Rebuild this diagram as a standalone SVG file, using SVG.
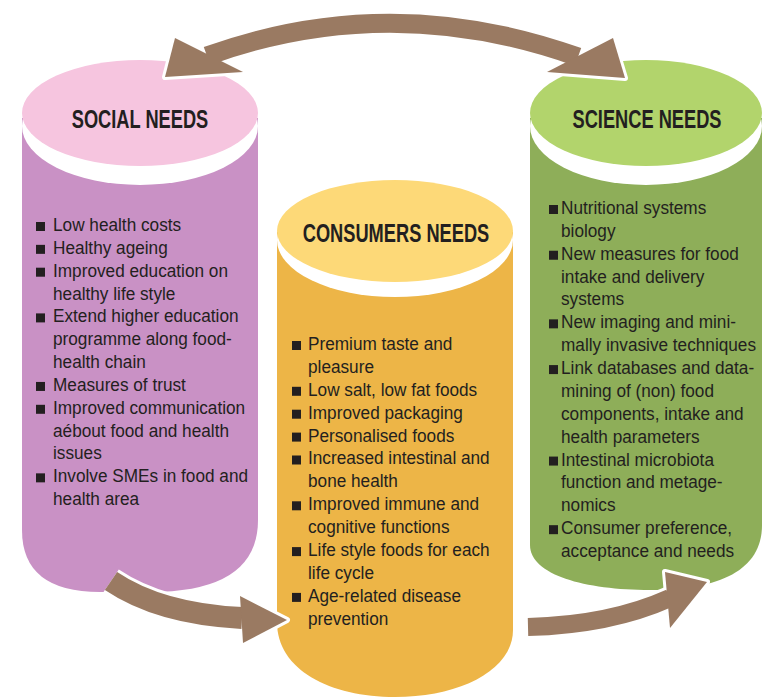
<svg xmlns="http://www.w3.org/2000/svg" xmlns:xlink="http://www.w3.org/1999/xlink" width="763" height="700" viewBox="0 0 763 700">
<style>
.title{font-family:"Liberation Sans",Arial,sans-serif;font-weight:bold;font-size:25px;fill:#231F20;}
.b{font-family:"Liberation Sans",Arial,sans-serif;font-size:18.5px;fill:#231F20;}
.blt{fill:#231F20;}
.wht{fill:#FFFFFF;}
.arrowband{fill:none;stroke:#9A7A62;stroke-linecap:butt;}
.arrowbandw{fill:none;stroke:#FFFFFF;stroke-linecap:butt;}
.head{fill:#9A7A62;}
.headw{fill:#FFFFFF;stroke:#FFFFFF;stroke-width:6;stroke-linejoin:round;}
</style>
<defs>
<rect id="blt" class="blt" width="9" height="9"/>
</defs>
<rect width="763" height="700" fill="#FFFFFF"/>

<g id="social">
<path d="M22,118 L22,530 Q22,592 100,592 L150,592 Q258,592 258,520 L258,118 Z" fill="#C991C5"/>
<ellipse class="wht" cx="140" cy="126" rx="118" ry="59"/>
<ellipse cx="140" cy="113" rx="118" ry="53" fill="#F6C5DF"/>
<g transform="translate(140 128) scale(0.73 1)"><text class="title" x="0" y="0" text-anchor="middle">SOCIAL NEEDS</text></g>
<use xlink:href="#blt" x="36" y="222"/>
<use xlink:href="#blt" x="36" y="244.85"/>
<use xlink:href="#blt" x="36" y="267.7"/>
<use xlink:href="#blt" x="36" y="313.4"/>
<use xlink:href="#blt" x="36" y="381.95"/>
<use xlink:href="#blt" x="36" y="404.8"/>
<use xlink:href="#blt" x="36" y="473.35"/>
<g transform="translate(53 0) scale(0.93 1)">
<text class="b">
<tspan x="0" y="231">Low health costs</tspan>
<tspan x="0" y="253.85">Healthy ageing</tspan>
<tspan x="0" y="276.7">Improved education on</tspan>
<tspan x="0" y="299.55">healthy life style</tspan>
<tspan x="0" y="322.4">Extend higher education</tspan>
<tspan x="0" y="345.25">programme along food-</tspan>
<tspan x="0" y="368.1">health chain</tspan>
<tspan x="0" y="390.95">Measures of trust</tspan>
<tspan x="0" y="413.8">Improved communication</tspan>
<tspan x="0" y="436.65">aébout food and health</tspan>
<tspan x="0" y="459.5">issues</tspan>
<tspan x="0" y="482.35">Involve SMEs in food and</tspan>
<tspan x="0" y="505.2">health area</tspan>
</text>
</g>
</g>

<g id="consumers">
<path d="M277,232 L277,622 C277,670 330,697 395,697 C460,697 513,670 513,630 L513,232 Z" fill="#EDB547"/>
<ellipse class="wht" cx="395" cy="240" rx="118" ry="57"/>
<ellipse cx="395" cy="231" rx="118" ry="51" fill="#FDD978"/>
<g transform="translate(396 242) scale(0.73 1)"><text class="title" x="0" y="0" text-anchor="middle">CONSUMERS NEEDS</text></g>
<use xlink:href="#blt" x="292" y="341"/>
<use xlink:href="#blt" x="292" y="386.8"/>
<use xlink:href="#blt" x="292" y="409.7"/>
<use xlink:href="#blt" x="292" y="432.6"/>
<use xlink:href="#blt" x="292" y="455.5"/>
<use xlink:href="#blt" x="292" y="501.3"/>
<use xlink:href="#blt" x="292" y="547.1"/>
<use xlink:href="#blt" x="292" y="592.9"/>
<g transform="translate(308 0) scale(0.93 1)">
<text class="b">
<tspan x="0" y="350">Premium taste and</tspan>
<tspan x="0" y="372.9">pleasure</tspan>
<tspan x="0" y="395.8">Low salt, low fat foods</tspan>
<tspan x="0" y="418.7">Improved packaging</tspan>
<tspan x="0" y="441.6">Personalised foods</tspan>
<tspan x="0" y="464.5">Increased intestinal and</tspan>
<tspan x="0" y="487.4">bone health</tspan>
<tspan x="0" y="510.3">Improved immune and</tspan>
<tspan x="0" y="533.2">cognitive functions</tspan>
<tspan x="0" y="556.1">Life style foods for each</tspan>
<tspan x="0" y="579">life cycle</tspan>
<tspan x="0" y="601.9">Age-related disease</tspan>
<tspan x="0" y="624.8">prevention</tspan>
</text>
</g>
</g>

<g id="science">
<path d="M530,118 L530,545 C530,575 585,590 650,590 C720,590 762,570 762,525 L762,118 Z" fill="#8EAE59"/>
<ellipse class="wht" cx="646" cy="126" rx="116" ry="59"/>
<ellipse cx="646" cy="113" rx="116" ry="53" fill="#B2D46C"/>
<g transform="translate(647 128) scale(0.73 1)"><text class="title" x="0" y="0" text-anchor="middle">SCIENCE NEEDS</text></g>
<use xlink:href="#blt" x="549" y="205"/>
<use xlink:href="#blt" x="549" y="250.74"/>
<use xlink:href="#blt" x="549" y="319.35"/>
<use xlink:href="#blt" x="549" y="365.09"/>
<use xlink:href="#blt" x="549" y="456.57"/>
<use xlink:href="#blt" x="549" y="525.18"/>
<g transform="translate(561 0) scale(0.93 1)">
<text class="b">
<tspan x="0" y="214">Nutritional systems</tspan>
<tspan x="0" y="236.87">biology</tspan>
<tspan x="0" y="259.74">New measures for food</tspan>
<tspan x="0" y="282.61">intake and delivery</tspan>
<tspan x="0" y="305.48">systems</tspan>
<tspan x="0" y="328.35">New imaging and mini-</tspan>
<tspan x="0" y="351.22">mally invasive techniques</tspan>
<tspan x="0" y="374.09">Link databases and data-</tspan>
<tspan x="0" y="396.96">mining of (non) food</tspan>
<tspan x="0" y="419.83">components, intake and</tspan>
<tspan x="0" y="442.7">health parameters</tspan>
<tspan x="0" y="465.57">Intestinal microbiota</tspan>
<tspan x="0" y="488.44">function and metage-</tspan>
<tspan x="0" y="511.31">nomics</tspan>
<tspan x="0" y="534.18">Consumer preference,</tspan>
<tspan x="0" y="557.05">acceptance and needs</tspan>
</text>
</g>
</g>

<g id="connectors">
<path class="arrowbandw" stroke-width="25" d="M207,56 Q390,-10 578,57"/>
<polygon class="headw" points="165,77 175,38 243,72"/>
<polygon class="headw" points="625,78 613,38 547,72"/>
<path class="arrowband" stroke-width="19" d="M207,56 Q390,-10 578,57"/>
<polygon class="head" points="165,77 175,38 243,72"/>
<polygon class="head" points="625,78 613,38 547,72"/>
<path class="arrowbandw" stroke-width="28" d="M111,581 Q160,614 242,618"/>
<polygon class="headw" points="240,596 287,620 243,643"/>
<path class="arrowband" stroke-width="22" d="M111,581 Q160,614 242,618"/>
<polygon class="head" points="240,596 287,620 243,643"/>
<path class="arrowbandw" stroke-width="24" d="M528,627 Q610,625 670,598"/>
<polygon class="headw" points="665,572 707,582 670,628"/>
<path class="arrowband" stroke-width="18" d="M528,627 Q610,625 670,598"/>
<polygon class="head" points="665,572 707,582 670,628"/>
</g>
</svg>
